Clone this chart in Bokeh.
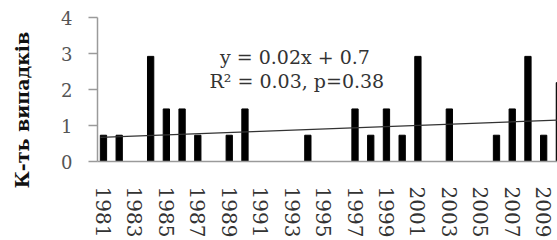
from bokeh.plotting import figure
from bokeh.layouts import row
from bokeh.models import Range1d, FixedTicker, Label, Title
from bokeh.embed import file_html
from bokeh.resources import INLINE

# Data
years = list(range(1981, 2011))
values = [0.73, 0.73, 0.0, 2.92, 1.46, 1.46, 0.73, 0.0, 0.73, 1.46,
          0.0, 0.0, 0.0, 0.73, 0.0, 0.0, 1.46, 0.73, 1.46, 0.73,
          2.92, 0.0, 1.46, 0.0, 0.0, 0.73, 1.46, 2.92, 0.73, 2.19]
trend_x = [1980.8, 2010.0]
trend_y = [0.67, 1.15]
x_ticks = list(range(1981, 2010, 2))
y_ticks = [0, 1, 2, 3, 4]
eq_text = "y = 0.02x + 0.7"
r2_text = "R² = 0.03, p=0.38"
y_label = "К-ть випадків"

FONT = "DejaVu Serif"

# narrow panel holding the rotated y-axis title
lab = figure(width=45, height=240, output_backend="svg", toolbar_location=None,
             x_range=Range1d(0, 1), y_range=Range1d(0, 4),
             min_border_left=0, min_border_right=0, min_border_top=17, min_border_bottom=73,
             x_axis_location=None, y_axis_location=None)
lab.outline_line_color = None
lab.xgrid.visible = False
lab.ygrid.visible = False
lab.add_layout(Title(text=y_label, align="left", offset=-27, standoff=16,
                     text_font=FONT, text_font_style="bold",
                     text_font_size="19px", text_color="#111111"), "left")

p = figure(width=512, height=240, output_backend="svg", toolbar_location=None,
           x_range=Range1d(1980.62, 2009.88), y_range=Range1d(0, 4),
           min_border_left=52, min_border_right=0, min_border_top=17, min_border_bottom=73)
p.outline_line_color = None
p.xgrid.visible = False
p.ygrid.visible = False
p.background_fill_color = "white"

p.vbar(x=years, top=values, width=0.4, color="black")
p.line(trend_x, trend_y, line_color="#333333", line_width=1.2)

# x axis
xa = p.xaxis[0]
xa.ticker = FixedTicker(ticks=x_ticks)
xa.major_label_orientation = "vertical"
xa.major_tick_out = 0
xa.major_tick_in = 0
xa.minor_tick_out = 0
xa.minor_tick_in = 0
xa.axis_line_color = "#9a9a9a"
xa.axis_line_width = 1.5
xa.major_label_standoff = 25
xa.major_label_text_font = FONT
xa.major_label_text_font_size = "20px"
xa.major_label_text_color = "#333333"

# y axis
ya = p.yaxis[0]
ya.ticker = FixedTicker(ticks=y_ticks)
ya.major_tick_out = 9
ya.major_tick_in = 0
ya.minor_tick_out = 0
ya.minor_tick_in = 0
ya.axis_line_color = "#9a9a9a"
ya.major_tick_line_color = "#9a9a9a"
ya.axis_line_width = 1.5
ya.major_tick_line_width = 1.5
ya.major_label_standoff = 16
ya.major_label_text_font = FONT
ya.major_label_text_font_size = "18px"
ya.major_label_text_color = "#555555"

# annotations
p.add_layout(Label(x=1993.18, y=2.91, text=eq_text, text_align="center",
                   text_baseline="alphabetic", text_font=FONT,
                   text_font_size="19px", text_color="#333333"))
p.add_layout(Label(x=1993.3, y=2.24, text=r2_text, text_align="center",
                   text_baseline="alphabetic", text_font=FONT,
                   text_font_size="19px", text_color="#333333"))

layout = row(lab, p, spacing=0)
open("out.html", "w").write(file_html(layout, INLINE))
